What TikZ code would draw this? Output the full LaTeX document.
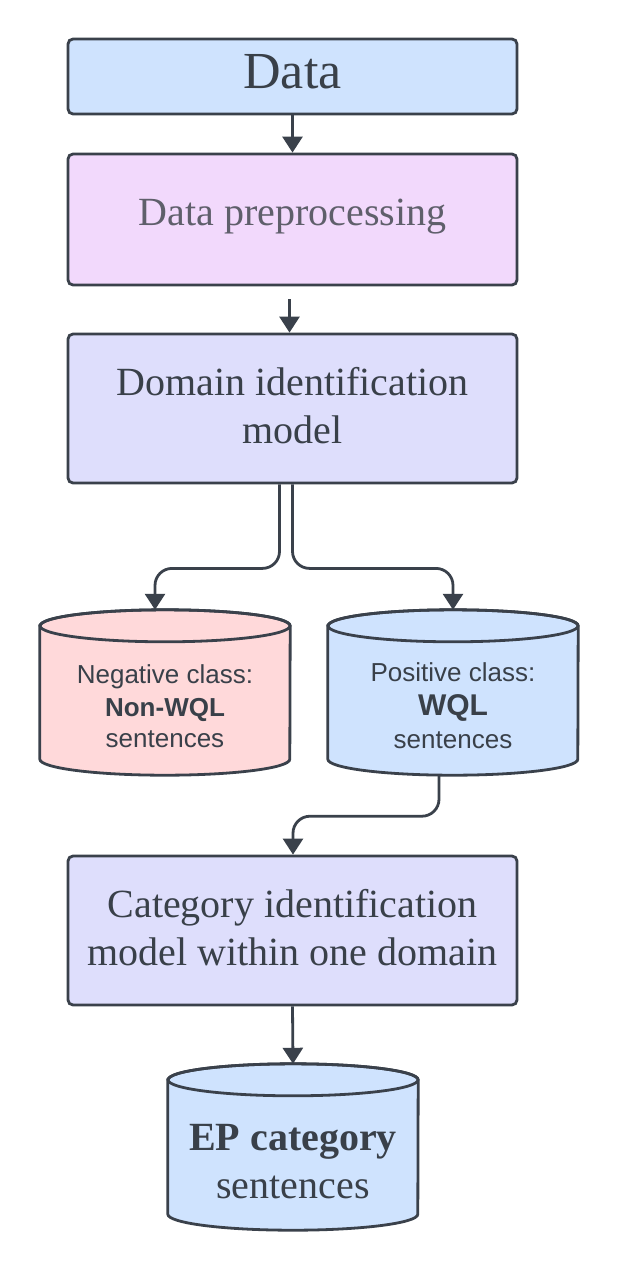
\documentclass[tikz,border=0pt]{standalone}
\usepackage{fontspec}
\setmainfont{Liberation Serif}
\newfontfamily\sansf{Liberation Sans}
\usetikzlibrary{arrows.meta,calc}
\definecolor{strokec}{HTML}{3A414B}
\definecolor{textc}{HTML}{394049}
\definecolor{pretextc}{HTML}{5F5F6B}
\definecolor{bluef}{HTML}{CFE3FE}
\definecolor{pinkf}{HTML}{F2D9FC}
\definecolor{lavf}{HTML}{DEDEFC}
\definecolor{redf}{HTML}{FFD9DA}
\tikzset{
  boxnode/.style={draw=strokec, line width=2.8pt, rounded corners=5pt, rectangle, minimum width=449pt, inner sep=0pt},
  cylnode/.style={rectangle, minimum width=250pt, inner sep=0pt},
  cylline/.style={draw=strokec, line width=2.8pt},
  conn/.style={draw=strokec, line width=2.8pt, -{Triangle[width=20pt,length=16pt]}},
  txt/.style={text=textc, inner sep=0pt, anchor=base},
  big/.style={font=\fontsize{40}{48}\selectfont},
  small/.style={font=\sansf\fontsize{26}{31}\selectfont},
}
\newcommand\mycyl[2]{%
  \filldraw[fill=#2, cylline] ($(#1.north west)+(0,16)$) -- ($(#1.south west)+(0,-16)$)
    arc[start angle=180,end angle=360,x radius=125pt,y radius=16pt]
    -- ($(#1.north east)+(0,16)$)
    arc[start angle=0,end angle=180,x radius=125pt,y radius=16pt] -- cycle;
  \draw[cylline] ($(#1.north)+(0,16)$) ellipse [x radius=125pt, y radius=16pt];
}
\begin{document}
\begin{tikzpicture}[x=1pt,y=-1pt]
\useasboundingbox (0,0) rectangle (617,1271);
% boxes
\node[boxnode, fill=bluef, minimum height=75pt] (data) at (292.5,76.5) {};
\node[boxnode, fill=pinkf, minimum height=131pt] (pre) at (292.5,219.5) {};
\node[boxnode, fill=lavf, minimum height=149pt] (dom) at (292.5,408.5) {};
\node[boxnode, fill=lavf, minimum height=149pt] (cat) at (292.5,930.5) {};
% cylinders
\node[cylnode, minimum height=165pt] (neg) at (165,692.5) {};
\node[cylnode, minimum height=165pt] (pos) at (453,692.5) {};
\node[cylnode, minimum height=166pt] (ep) at (293,1147) {};
\mycyl{neg}{redf}
\mycyl{pos}{bluef}
\mycyl{ep}{bluef}
% texts
\node[txt, font=\fontsize{52}{60}\selectfont] (tdata) at (292.5,89) {Data};
\node[txt, big, text=pretextc] (tpre) at (292.5,225) {Data preprocessing};
\node[txt, big] (tdom1) at (292.5,395) {Domain identification};
\node[txt, big] (tdom2) at (292.5,443) {model};
\node[txt, big] (tcat1) at (292.5,917) {Category identification};
\node[txt, big] (tcat2) at (292.5,965) {model within one domain};
\node[txt, small] (tneg1) at (165,683) {Negative class:};
\node[txt, small, font=\sansf\bfseries\fontsize{26}{31}\selectfont] (tneg2) at (165,716) {Non-WQL};
\node[txt, small] (tneg3) at (165,747) {sentences};
\node[txt, small] (tpos1) at (453,681.5) {Positive class:};
\node[txt, font=\sansf\bfseries\fontsize{30}{36}\selectfont] (tpos2) at (453,715) {WQL};
\node[txt, small] (tpos3) at (453,748) {sentences};
\node[txt, font=\bfseries\fontsize{40}{48}\selectfont] (tep1) at (293,1150) {EP category};
\node[txt, big] (tep2) at (293,1198) {sentences};
% connectors
\draw[conn] (data.south) -- (pre.north);
\draw[conn] ([xshift=-3pt,yshift=-13pt]pre.south) -- ([xshift=-3pt]dom.north);
\draw[conn, rounded corners=17pt] ([xshift=-13pt]dom.south) -- ++(0,84) -| ([xshift=-10pt]neg.north);
\draw[conn, rounded corners=17pt] (dom.south) -- ++(0,84) -| (pos.north);
\draw[conn, rounded corners=17pt] ([xshift=-14pt]pos.south) -- ++(0,41) -| ([xshift=0.5pt]cat.north);
\draw[conn] (cat.south) -- (ep.north);
\end{tikzpicture}
\end{document}
